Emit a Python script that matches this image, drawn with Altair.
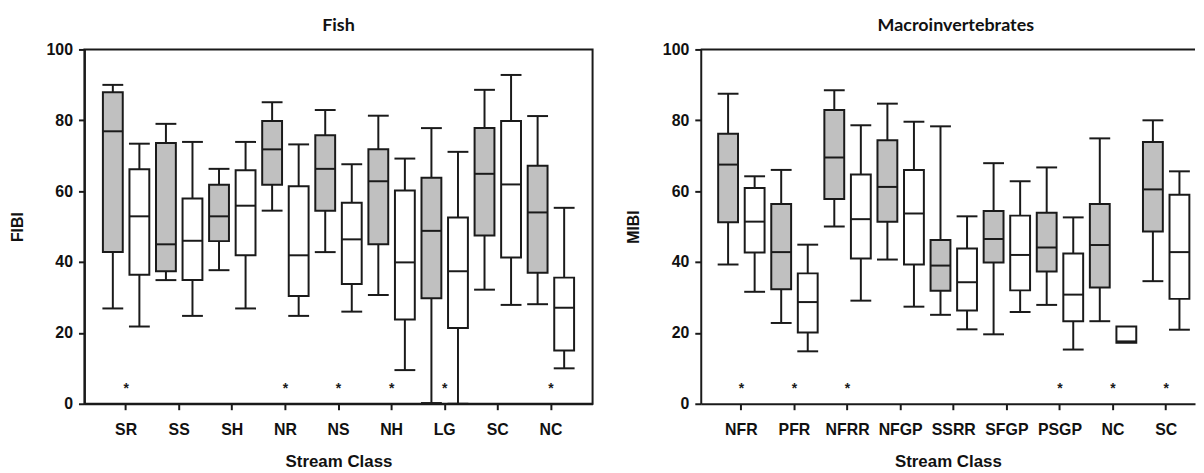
import altair as alt
import pandas as pd

# ---------------- data ----------------
fish_classes = ["SR", "SS", "SH", "NR", "NS", "NH", "LG", "SC", "NC"]
fish_gray_hi = [90.0, 79.0, 66.3, 85.1, 82.9, 81.3, 77.8, 88.6, 81.2]
fish_gray_q3 = [87.9, 73.6, 61.8, 79.8, 75.8, 71.8, 63.8, 77.8, 67.2]
fish_gray_med = [76.9, 45.0, 52.9, 71.8, 66.3, 62.8, 48.8, 64.9, 54.0]
fish_gray_q1 = [42.8, 37.4, 45.9, 61.8, 54.5, 45.0, 29.8, 47.5, 37.0]
fish_gray_lo = [26.9, 34.9, 37.7, 54.5, 42.8, 30.7, 0.2, 32.2, 28.1]
fish_white_hi = [73.4, 73.9, 73.9, 73.2, 67.6, 69.2, 71.1, 92.8, 55.3]
fish_white_q3 = [66.2, 57.9, 65.9, 61.4, 56.7, 60.2, 52.6, 79.8, 35.6]
fish_white_med = [52.9, 46.0, 55.9, 41.9, 46.4, 39.9, 37.4, 61.9, 27.1]
fish_white_q1 = [36.4, 34.9, 41.9, 30.4, 33.8, 23.8, 21.4, 41.3, 15.0]
fish_white_lo = [21.8, 24.8, 26.9, 24.8, 26.0, 9.5, 0.0, 27.9, 10.0]
fish_stars = ["SR", "NR", "NS", "NH", "LG", "NC"]

macro_classes = ["NFR", "PFR", "NFRR", "NFGP", "SSRR", "SFGP", "PSGP", "NC", "SC"]
macro_gray_hi = [87.5, 66.0, 88.5, 84.7, 78.3, 67.9, 66.7, 74.9, 80.0]
macro_gray_q3 = [76.2, 56.4, 82.9, 74.4, 46.2, 54.4, 53.9, 56.4, 73.9]
macro_gray_med = [67.5, 42.8, 69.5, 61.2, 39.0, 46.5, 44.1, 44.8, 60.5]
macro_gray_q1 = [51.2, 32.3, 57.8, 51.4, 31.9, 39.9, 37.3, 32.8, 48.6]
macro_gray_lo = [39.3, 22.8, 50.0, 40.7, 25.1, 19.6, 27.9, 23.3, 34.6]
macro_white_hi = [64.2, 44.9, 78.6, 79.6, 52.9, 62.8, 52.6, None, 65.6]
macro_white_q3 = [60.9, 36.8, 64.7, 66.0, 43.8, 53.1, 42.4, 21.8, 59.0]
macro_white_med = [51.4, 28.7, 52.1, 53.7, 34.3, 42.0, 30.8, 17.6, 42.8]
macro_white_q1 = [42.7, 20.1, 41.0, 39.3, 26.3, 32.0, 23.3, 17.2, 29.6]
macro_white_lo = [31.6, 14.8, 29.1, 27.4, 21.0, 25.9, 15.3, None, 20.9]
macro_stars = ["NFR", "PFR", "NFRR", "PSGP", "NC", "SC"]

y_ticks = [0, 20, 40, 60, 80, 100]
groups = ["gray", "white"]
LINE = "#1a1a1a"


def build(classes, gray, white):
    rows = []
    for g, stats in zip(groups, [gray, white]):
        hi, q3, med, q1, lo = stats
        for i, c in enumerate(classes):
            rows.append(dict(cls=c, grp=g, hi=hi[i], q3=q3[i], med=med[i], q1=q1[i], lo=lo[i]))
    return pd.DataFrame(rows)


def panel(classes, gray, white, stars, title, ytitle, width, ytitle_pad,
          pad_outer, align, framed, title_dx):
    df = build(classes, gray, white)
    xscale = alt.Scale(domain=classes, paddingInner=0, paddingOuter=pad_outer, align=align)
    xenc = alt.X("cls:N", sort=classes, scale=xscale,
                 axis=alt.Axis(title="Stream Class", labelAngle=0))
    xoff = alt.XOffset("grp:N", scale=alt.Scale(domain=groups, paddingInner=0, paddingOuter=0))
    y_scale = alt.Scale(domain=[y_ticks[0], y_ticks[-1]], nice=False, zero=True)
    yax = alt.Axis(title=ytitle, values=y_ticks, grid=False, titlePadding=ytitle_pad)

    base = alt.Chart(df).encode(x=xenc, xOffset=xoff)
    whisk = base.transform_filter("isValid(datum.hi)").mark_rule(
        color=LINE, strokeWidth=2
    ).encode(y=alt.Y("lo:Q", scale=y_scale, axis=yax), y2="hi:Q")
    box = base.mark_bar(width=20, stroke=LINE, strokeWidth=2).encode(
        y=alt.Y("q1:Q", scale=y_scale, axis=yax),
        y2="q3:Q",
        fill=alt.Fill("grp:N", scale=alt.Scale(domain=groups, range=["#c0c0c0", "#ffffff"]), legend=None),
    )
    cap_hi = base.transform_filter("isValid(datum.hi)").mark_tick(
        color=LINE, size=21, thickness=2, opacity=1
    ).encode(y=alt.Y("hi:Q", scale=y_scale, axis=yax))
    cap_lo = base.transform_filter("isValid(datum.lo)").mark_tick(
        color=LINE, size=21, thickness=2, opacity=1
    ).encode(y=alt.Y("lo:Q", scale=y_scale, axis=yax))
    med = base.mark_tick(color=LINE, size=20, thickness=2, opacity=1).encode(
        y=alt.Y("med:Q", scale=y_scale, axis=yax)
    )
    star_df = pd.DataFrame({"cls": stars, "mark": ["*"] * len(stars)})
    star = alt.Chart(star_df).mark_text(
        fontSize=14, fontWeight="bold", color=LINE, baseline="middle", dy=1
    ).encode(
        x=alt.X("cls:N", sort=classes, scale=xscale),
        y=alt.datum(4.5, scale=y_scale),
        text="mark:N",
    )
    layers = [whisk, box, med, cap_hi, cap_lo, star]
    if not framed:
        top = alt.Chart(pd.DataFrame({"v": [y_ticks[-1]]})).mark_rule(
            color=LINE, strokeWidth=2
        ).encode(y=alt.Y("v:Q", scale=y_scale, axis=yax))
        layers.append(top)
    view = alt.ViewBackground(stroke=LINE, strokeWidth=2) if framed else \
        alt.ViewBackground(stroke="transparent", strokeWidth=0)
    return alt.layer(*layers).properties(
        width=width,
        height=357,
        view=view,
        title=alt.TitleParams(title, font="Lato", fontSize=18, fontWeight="bold",
                              offset=7, anchor="middle", color="#111111", dx=title_dx),
    )


fish = panel(
    fish_classes,
    [fish_gray_hi, fish_gray_q3, fish_gray_med, fish_gray_q1, fish_gray_lo],
    [fish_white_hi, fish_white_q3, fish_white_med, fish_white_q1, fish_white_lo],
    fish_stars, "Fish", "FIBI", 512, 21, 0.285, 0.5, True, 0,
)
macro = panel(
    macro_classes,
    [macro_gray_hi, macro_gray_q3, macro_gray_med, macro_gray_q1, macro_gray_lo],
    [macro_white_hi, macro_white_q3, macro_white_med, macro_white_q1, macro_white_lo],
    macro_stars, "Macroinvertebrates", "MIBI", 498, 21, 0.154, 0.86, False, 8,
)

chart = alt.hconcat(fish, macro, spacing=32).properties(
    padding={"left": 0, "top": 6, "right": 0, "bottom": 0}
).configure(
    font="Liberation Sans"
).configure_axis(
    labelFont="Liberation Sans",
    labelFontWeight="bold",
    labelFontSize=16,
    labelColor="#111111",
    titleFont="Liberation Sans",
    titleFontWeight="bold",
    titleFontSize=16,
    titleColor="#111111",
    domainColor=LINE,
    domainWidth=2,
    tickColor=LINE,
    tickWidth=2,
    tickSize=6,
).configure_axisX(
    labelPadding=12,
    titlePadding=16,
    titleFontSize=17,
).configure_axisY(
    labelPadding=6,
)

chart.save("out.html", embed_options={"renderer": "svg", "actions": False})
